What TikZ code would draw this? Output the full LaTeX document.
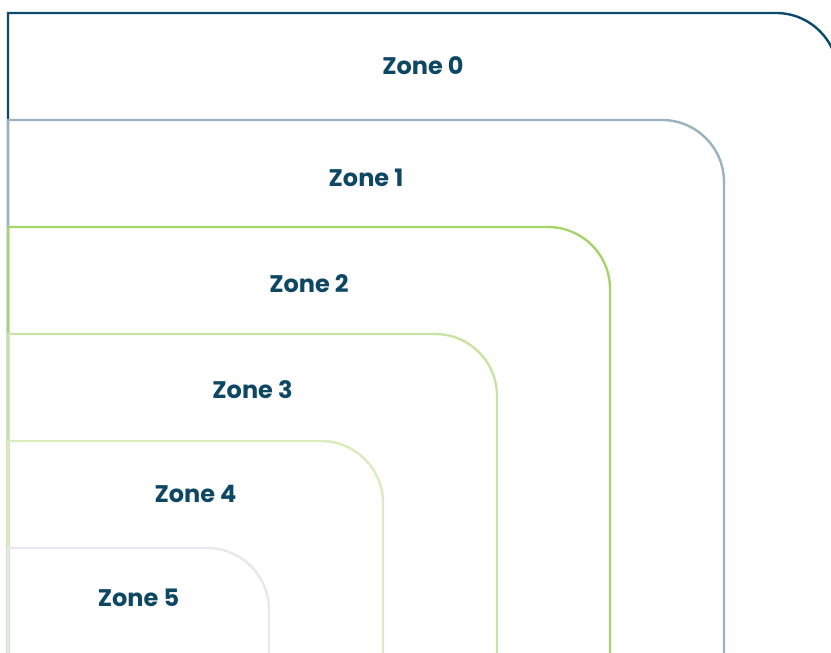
\documentclass[tikz,border=0pt]{standalone}
\usepackage{fontspec}
\setmainfont{Poppins}
\definecolor{zonez}{HTML}{0B4B6B}
\definecolor{zonea}{HTML}{9AB3BF}
\definecolor{zoneb}{HTML}{A5D46B}
\definecolor{zonec}{HTML}{C8E3A2}
\definecolor{zoned}{HTML}{DAEBBE}
\definecolor{zonee}{HTML}{E6E8EC}
\definecolor{zonetxt}{HTML}{0E4764}
\begin{document}
\begin{tikzpicture}[x=1pt,y=1pt,
	zoneline/.style={line width=2.4pt},
	zonelabel/.style={font=\bfseries\fontsize{24}{28}\selectfont, text=zonetxt}]
	\useasboundingbox (0,0) rectangle (831,653);
	\clip (0,0) rectangle (831,653);
	\def\rad{62}
	\foreach \i/\r/\ly/\col in {0/838/587/zonez, 1/724/475/zonea, 2/610/369/zoneb, 3/497/263/zonec, 4/383/159/zoned, 5/269/55/zonee} {
		\pgfmathsetmacro\t{640-107*\i}
		\draw[zoneline, \col] (8,-20) -- (8,\t) -- ({\r-\rad},\t) arc[start angle=90, end angle=0, radius=\rad] -- (\r,-20);
		\node[zonelabel] (zone\i) at ({(8+\r)/2},\ly) {Zone \i};
	}
\end{tikzpicture}
\end{document}
